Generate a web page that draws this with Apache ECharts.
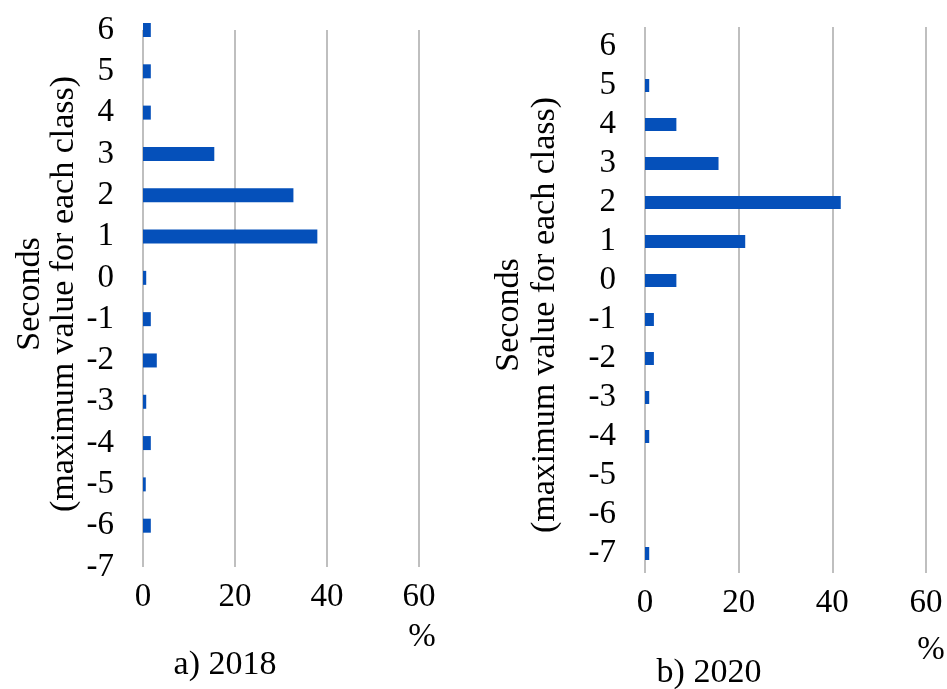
<!DOCTYPE html>
<html>
<head>
<meta charset="utf-8">
<script src="https://cdn.jsdelivr.net/npm/echarts@6/dist/echarts.min.js"></script>
<style>
html,body{margin:0;padding:0;background:#fff;}
#c{width:947px;height:689px;}
</style>
</head>
<body>
<div id="c"></div>
<script>
const categories = ['-7','-6','-5','-4','-3','-2','-1','0','1','2','3','4','5','6'];
const values2018 = [0, 1.7, 0.6, 1.7, 0.7, 3.0, 1.7, 0.7, 37.9, 32.7, 15.5, 1.7, 1.7, 1.7];
const values2020 = [0.9, 0, 0, 0.9, 0.9, 1.9, 1.9, 6.7, 21.4, 41.8, 15.7, 6.7, 0.9, 0];
const xMin = 0, xMax = 60, xStep = 20;
const panelTitles = ['a) 2018', 'b) 2020'];
const yTitle = 'Seconds\n(maximum value for each class)';
const xUnit = '%';

const FONT = "'Liberation Serif', 'Times New Roman', serif";
const BAR = '#0550BA';
const GRID = '#BFBFBF';
const FS = 33;
const FT = 34;

function xAxisCfg(idx){
  return {
    type:'value', gridIndex: idx, min:xMin, max:xMax, interval:xStep,
    axisLine:{show:false}, axisTick:{show:false},
    splitLine:{show:true, showMinLine:true, showMaxLine:true, lineStyle:{color:GRID, width:2}},
    axisLabel:{fontFamily:FONT, fontSize:FS, color:'#000', margin:14}
  };
}
function yAxisCfg(idx, gap){
  return {
    type:'category', gridIndex: idx, data: categories, boundaryGap: gap,
    axisLine:{show:false}, axisTick:{show:false}, splitLine:{show:false},
    axisLabel:{fontFamily:FONT, fontSize:FS, color:'#000', margin:29, interval:0}
  };
}
const chart = echarts.init(document.getElementById('c'), null, {renderer:'canvas'});
chart.setOption({
  animation:false,
  backgroundColor:'#fff',
  grid:[
    {left:143, top:30, width:276, height:537},
    {left:645, top:27, width:281, height:546}
  ],
  xAxis:[xAxisCfg(0), xAxisCfg(1)],
  yAxis:[yAxisCfg(0, false), yAxisCfg(1, true)],
  series:[
    {type:'bar', xAxisIndex:0, yAxisIndex:0, data:values2018, barWidth:14, clip:true,
     itemStyle:{color:BAR}},
    {type:'bar', xAxisIndex:1, yAxisIndex:1, data:values2020, barWidth:13, clip:true,
     itemStyle:{color:BAR}}
  ],
  graphic:[
    {type:'text', x:47, y:294, rotation:Math.PI/2,
     style:{text:yTitle, fontFamily:FONT, fontSize:FT, fill:'#000', align:'center', verticalAlign:'middle', lineHeight:34}},
    {type:'text', x:527, y:315, rotation:Math.PI/2,
     style:{text:yTitle, fontFamily:FONT, fontSize:FT, fill:'#000', align:'center', verticalAlign:'middle', lineHeight:36}},
    {type:'text', x:422, y:637,
     style:{text:xUnit, fontFamily:FONT, fontSize:FS, fill:'#000', align:'center', verticalAlign:'middle'}},
    {type:'text', x:931, y:650,
     style:{text:xUnit, fontFamily:FONT, fontSize:FS, fill:'#000', align:'center', verticalAlign:'middle'}},
    {type:'text', x:225, y:665,
     style:{text:panelTitles[0], fontFamily:FONT, fontSize:FT, fill:'#000', align:'center', verticalAlign:'middle'}},
    {type:'text', x:709, y:673,
     style:{text:panelTitles[1], fontFamily:FONT, fontSize:FT, fill:'#000', align:'center', verticalAlign:'middle'}}
  ]
});
</script>
</body>
</html>
